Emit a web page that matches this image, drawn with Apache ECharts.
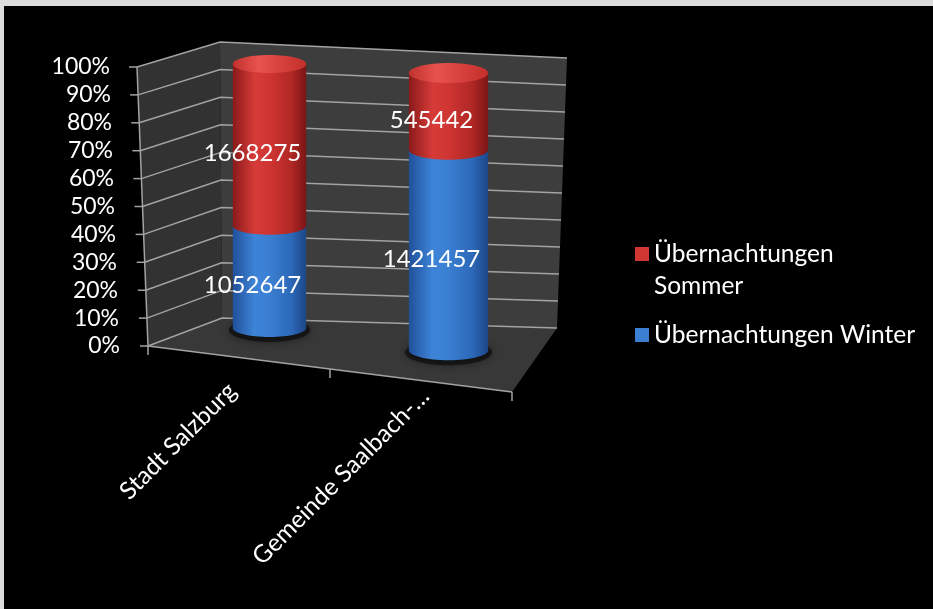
<!DOCTYPE html>
<html><head><meta charset="utf-8">
<script src="https://cdn.jsdelivr.net/npm/echarts@6/dist/echarts.min.js"></script>
<style>
html,body{margin:0;padding:0;background:#dcdcdc;width:933px;height:609px;overflow:hidden}
#chart{position:absolute;left:4px;top:6px;width:929px;height:603px;background:#000}
</style></head><body><div id="chart"></div>
<script>
// ---- data ----
const categories = ['Stadt Salzburg', 'Gemeinde Saalbach-Hinterglemm'];
const winter = [1052647, 1421457];
const sommer = [1668275, 545442];
const nameSommer = 'Übernachtungen Sommer';
const nameWinter = 'Übernachtungen Winter';
const percentTicks = [0, 10, 20, 30, 40, 50, 60, 70, 80, 90, 100];

// ---- layout (page coordinates, converted to chart coords) ----
const OX = 4, OY = 6;
const FONT = 'Lato, "Open Sans", sans-serif';
const P = (x, y) => [x - OX, y - OY];
const FLB = P(148, 346), FLT = P(137, 67), BLB = P(222, 318), BLT = P(220, 42);
const BRB = P(557, 328), BRT = P(567, 58), FRB = P(512, 392);
const lerp = (a, b, t) => [a[0] + (b[0] - a[0]) * t, a[1] + (b[1] - a[1]) * t];

const totals = categories.map((c, i) => winter[i] + sommer[i]);
const winterPct = winter.map((v, i) => v / totals[i] * 100);
const winterData = categories.map((c, i) => [i, 0, winterPct[i], winter[i]]);
const sommerData = categories.map((c, i) => [i, winterPct[i], 100, sommer[i]]);

const BLUE = {
  body: [[0, '#21509a'], [0.3, '#3d84d8'], [0.5, '#3a7fd2'], [0.8, '#2c68b8'], [1, '#1c4687']],
  legend: '#3a7fd2'
};
const RED = {
  body: [[0, '#8a1a1a'], [0.3, '#d63b38'], [0.5, '#cf3532'], [0.8, '#b02825'], [1, '#7a1515']],
  cap: [[0, '#c0322e'], [0.35, '#e9524e'], [1, '#c42f2b']],
  legend: '#d23633'
};
const grad = stops => ({type: 'linear', x: 0, y: 0, x2: 1, y2: 0,
  colorStops: stops.map(s => ({offset: s[0], color: s[1]}))});

function renderFrame(params, api) {
  const y0 = api.coord([0, 0])[1], y1 = api.coord([0, 100])[1];
  const tOf = v => (y0 - api.coord([0, v])[1]) / (y0 - y1);
  const line = '#a3a3a3';
  const ch = [];
  ch.push({type: 'polygon', shape: {points: [FLB, FLT, BLT, BLB]}, style: {fill: '#323232'}});
  ch.push({type: 'polygon', shape: {points: [BLB, BLT, BRT, BRB]}, style: {fill: '#3d3d3d'}});
  ch.push({type: 'polygon', shape: {points: [FLB, BLB, BRB, FRB]}, style: {fill: '#383838'}});
  percentTicks.forEach(v => {
    const t = tOf(v);
    const fl = lerp(FLB, FLT, t), bl = lerp(BLB, BLT, t), br = lerp(BRB, BRT, t);
    ch.push({type: 'polyline', shape: {points: [fl, bl, br]}, style: {stroke: line, lineWidth: 1.5, fill: null}});
    ch.push({type: 'line', shape: {x1: fl[0] - 8, y1: fl[1], x2: fl[0], y2: fl[1]}, style: {stroke: line, lineWidth: 1.5}});
  });
  ch.push({type: 'line', shape: {x1: FLB[0], y1: FLB[1], x2: FLT[0], y2: FLT[1]}, style: {stroke: line, lineWidth: 1.5}});
  ch.push({type: 'line', shape: {x1: FLB[0], y1: FLB[1], x2: FRB[0], y2: FRB[1]}, style: {stroke: line, lineWidth: 1.5}});
  const n = categories.length;
  for (let k = 0; k <= n; k++) {
    const p = lerp(FLB, FRB, k / n);
    ch.push({type: 'line', shape: {x1: p[0], y1: p[1], x2: p[0], y2: p[1] + 9}, style: {stroke: line, lineWidth: 1.5}});
  }
  return {type: 'group', children: ch};
}

function renderCyl(params, api) {
  const i = api.value(0), v0 = api.value(1), v1 = api.value(2), raw = api.value(3);
  const b0 = api.coord([0, 0]), b1 = api.coord([1, 0]), top0 = api.coord([0, 100]);
  const step = b1[0] - b0[0];
  const pb = api.coord([i, v0]), pt = api.coord([i, v1]);
  const cx = pb[0];
  const f = (cx - b0[0]) / step;
  const adj = y => y + f * (9 + (y - top0[1]) * 0.05);
  const yb = adj(pb[1]), yt = adj(pt[1]);
  const w = step * 0.41 * (1 + 0.08 * f);
  const rx = w / 2, ry = 9 + f;
  const pal = params.seriesName === nameSommer ? RED : BLUE;
  const ch = [];
  if (v0 <= 0) {
    ch.push({type: 'ellipse', shape: {cx: cx, cy: yb + 2, rx: rx + 4, ry: ry + 3},
      style: {fill: 'rgba(0,0,0,0.5)', shadowBlur: 8, shadowColor: 'rgba(0,0,0,0.8)'}});
  }
  ch.push({type: 'rect', shape: {x: cx - rx, y: yt, width: w, height: yb - yt}, style: {fill: grad(pal.body)}});
  ch.push({type: 'ellipse', shape: {cx: cx, cy: yb, rx: rx, ry: ry}, style: {fill: grad(pal.body)}});
  if (v1 >= 100) {
    ch.push({type: 'ellipse', shape: {cx: cx, cy: yt, rx: rx, ry: ry}, style: {fill: grad(pal.cap || pal.body)}});
  }
  ch.push({type: 'text', style: {text: String(raw), x: cx - 17, y: (yt + yb) / 2 + ry - 1,
    fill: '#ffffff', font: '24px ' + FONT, align: 'center', verticalAlign: 'middle'}});
  return {type: 'group', children: ch};
}

const legendText = {color: '#ffffff', fontFamily: FONT, fontSize: 24.5, lineHeight: 32};
const chart = echarts.init(document.getElementById('chart'));
chart.setOption({
  backgroundColor: '#000000',
  animation: false,
  grid: [
    {left: 180 - OX, width: 358, top: 64 - OY, height: 264},
    {left: FLB[0], width: FRB[0] - FLB[0], top: FLT[1], height: FLB[1] - FLT[1]}
  ],
  xAxis: [
    {gridIndex: 0, type: 'category', data: categories, show: false},
    {gridIndex: 1, type: 'category', data: categories,
      axisLine: {show: false}, axisTick: {show: false}, splitLine: {show: false},
      axisLabel: {rotate: 45, margin: 42, interval: 0, color: '#ffffff', fontFamily: FONT, fontSize: 24.5,
        formatter: (name, idx) => {
          const s = name.length > 18 ? name.slice(0, 18) + '…' : name;
          return '{c' + idx + '|' + s + '}';
        },
        rich: {c0: {padding: [0, 4, 11, 0]}, c1: {padding: [12, 0, 0, 0]}}}}
  ],
  yAxis: [
    {gridIndex: 0, type: 'value', min: 0, max: 100, show: false},
    {gridIndex: 1, type: 'value', min: 0, max: 100, interval: 10,
      axisLine: {show: false}, axisTick: {show: false}, splitLine: {show: false},
      axisLabel: {margin: 28, color: '#ffffff', fontFamily: FONT, fontSize: 23,
        formatter: v => '{p' + (v / 10) + '|' + v + '%}',
        rich: Object.fromEntries(percentTicks.map(v => ['p' + (v / 10), {padding: [0, v / 10, 0, 0]}]))}}
  ],
  legend: [
    {data: [nameSommer], formatter: n => '\n' + n.replace(' ', '\n'),
      left: 635 - OX, top: 206 - OY, padding: 0, icon: 'rect', itemWidth: 14, itemHeight: 14,
      textStyle: legendText},
    {data: [nameWinter], left: 635 - OX, top: 319 - OY, padding: 0, icon: 'rect', itemWidth: 14, itemHeight: 14,
      textStyle: legendText}
  ],
  series: [
    {type: 'custom', name: 'frame', xAxisIndex: 1, yAxisIndex: 1, data: [[0, 0]], renderItem: renderFrame,
      silent: true, clip: false, z: 1},
    {type: 'custom', name: nameWinter, xAxisIndex: 0, yAxisIndex: 0, data: winterData, renderItem: renderCyl,
      itemStyle: {color: BLUE.legend}, encode: {x: 0, y: [1, 2]}, clip: false, z: 2},
    {type: 'custom', name: nameSommer, xAxisIndex: 0, yAxisIndex: 0, data: sommerData, renderItem: renderCyl,
      itemStyle: {color: RED.legend}, encode: {x: 0, y: [1, 2]}, clip: false, z: 2}
  ]
});
</script></body></html>
